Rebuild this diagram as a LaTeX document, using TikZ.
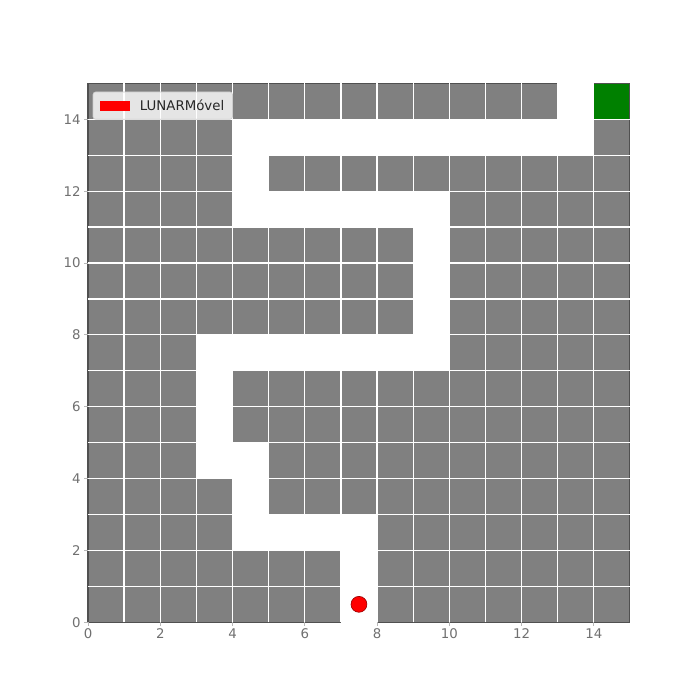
\documentclass[tikz,border=0pt]{standalone}
\usepackage{fontspec}
\setmainfont{DejaVu Sans}
\definecolor{cellgray}{HTML}{808080}
\definecolor{celledge}{HTML}{505050}
\definecolor{goalgreen}{HTML}{008000}
\definecolor{ticklab}{HTML}{707070}
\definecolor{legtext}{HTML}{262626}
\tikzset{
  cellbox/.style={fill=cellgray, draw=celledge, line width=0.8pt},
  goalbox/.style={fill=goalgreen, draw=celledge, line width=0.8pt},
  gridline/.style={draw=white, line width=1.0pt},
  ticklabel/.style={text=ticklab, font=\fontsize{10.5}{12}\selectfont, inner sep=0pt},
  tickmark/.style={draw=ticklab!50, line width=0.6pt},
}
\begin{document}
\begin{tikzpicture}[x=1cm,y=0.9945cm]
\useasboundingbox (-2.436,-2.163) rectangle (16.94,17.32);
% obstacle cells
\foreach \y/\a/\b in {14/0/12, 13/0/3, 13/14/14, 12/0/3, 12/5/14, 11/0/3, 11/10/14,
  10/0/8, 10/10/14, 9/0/8, 9/10/14, 8/0/8, 8/10/14, 7/0/2, 7/10/14,
  6/0/2, 6/4/14, 5/0/2, 5/4/14, 4/0/2, 4/5/14, 3/0/3, 3/5/14,
  2/0/3, 2/8/14, 1/0/6, 1/8/14, 0/0/6, 0/8/14}{
  \foreach \x in {\a,...,\b}{
    \draw[cellbox] (\x,\y) rectangle ++(1,1);
  }
}
% goal cell
\draw[goalbox] (14,14) rectangle (15,15);
% white grid lines
\foreach \i in {1,...,14}{
  \draw[gridline] (\i,0) -- (\i,15);
  \draw[gridline] (0,\i) -- (15,\i);
}
% robot
\node[circle, fill=red, draw=red!60!black, line width=0.5pt, minimum size=0.44cm, inner sep=0pt] (robot) at (7.5,0.5) {};
% ticks and labels
\foreach \v in {0,2,...,14}{
  \draw[tickmark] (\v,0) -- (\v,-0.1);
  \node[ticklabel, anchor=north] (xl\v) at (\v,-0.17) {\v};
  \draw[tickmark] (0,\v) -- (-0.1,\v);
  \node[ticklabel, anchor=east] (yl\v) at (-0.2,\v) {\v};
}
% legend
\draw[fill=white, fill opacity=0.8, draw=white!80!black, line width=0.5pt, rounded corners=2pt] (0.14,14.0) rectangle (4.0,14.76);
\fill[red] (0.32,14.24) rectangle (1.15,14.5);
\node[anchor=west, text=legtext, font=\fontsize{10.5}{12}\selectfont, inner sep=0pt] (legend) at (1.43,14.38) {LUNARMóvel};
\end{tikzpicture}
\end{document}
